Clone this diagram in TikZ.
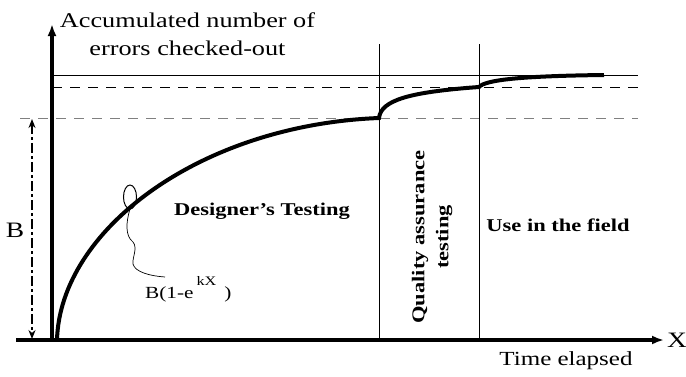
\documentclass[tikz,border=0pt]{standalone}
\usepackage{fontspec}
\setmainfont{Liberation Serif}[FakeStretch=1.25]
\usetikzlibrary{arrows.meta}
\newcommand{\fsz}[1]{\fontsize{#1}{#1}\selectfont}
\begin{document}
\begin{tikzpicture}[x=1pt,y=-1pt,
    axis/.style={line width=3.4pt,-{Latex[length=12pt,width=9pt]}},
    growth/.style={line width=4pt},
    thin/.style={line width=1pt},
    dashlevel/.style={line width=1pt,dash pattern=on 10pt off 8pt},
    phase/.style={font=\bfseries\fsz{18}}]
    \useasboundingbox (0,0) rectangle (686,376);
    % limit levels
    \draw[thin] (52,75) -- (638,75);
    \draw[dashlevel] (52,87) -- (638,87);
    \draw[dashlevel,gray] (20,118) -- (638,118);
    % phase borders
    \foreach \x in {379,479} {
        \draw[thin] (\x,44) -- (\x,340);
    }
    % axes
    \draw[axis] (16,340) -- (664,340);
    \draw[axis] (52,341) -- (52,24);
    % height B
    \draw[line width=1.6pt,dash pattern=on 10pt off 3pt on 3pt off 3pt,
        {Stealth[length=9pt,width=7pt]}-{Stealth[length=9pt,width=7pt]}] (32,119) -- (32,339);
    % error curve
    \draw[growth] (57,340) .. controls (60,230) and (200,125) .. (379,118)
        .. controls (381,100) and (410,92) .. (479,87)
        .. controls (485,80) and (520,76) .. (604,75);
    % formula pointer
    \draw[thin] (130,197) ellipse (6.5 and 12);
    \draw[line width=0.7pt] (130,209) .. controls (126,222) and (125,236) .. (133,242)
        .. controls (138,248) and (132,258) .. (133,264)
        .. controls (135,272) and (150,276) .. (165,277);
    % labels
    \node[anchor=base,font=\fsz{21}] (ytitle) at (187.5,27) {Accumulated number of};
    \node[anchor=base,font=\fsz{21}] (ytitle2) at (187.5,55) {errors checked-out};
    \node[anchor=base,font=\fsz{22}] (blabel) at (15,237) {B};
    \node[anchor=base,font=\fsz{22}] (xlabel) at (677,347) {X};
    \node[anchor=base,font=\fsz{20}] (xtitle) at (566,365) {Time elapsed};
    \node[anchor=base west,inner sep=0pt,font=\fsz{17}] (formula) at (145,298)
        {B(1-e\hspace{3pt}\raisebox{13pt}{\fsz{13}kX}\hspace{8pt})};
    \node[phase,anchor=base] (design) at (262,215) {Designer's Testing};
    \node[phase,anchor=base] (field) at (558,231) {Use in the field};
    \node[rotate=90,align=center,font=\bfseries\fontsize{18}{24}\selectfont] (qa) at (432,237)
        {Quality assurance\\testing};
\end{tikzpicture}
\end{document}
